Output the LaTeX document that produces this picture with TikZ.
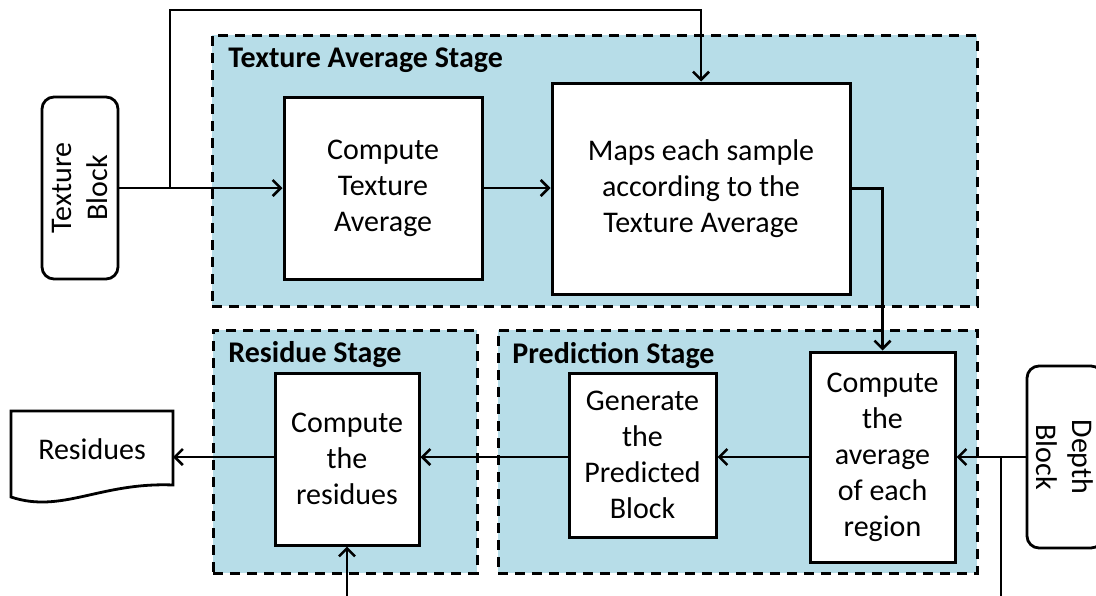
\documentclass[tikz,border=0pt]{standalone}
\usepackage{fontspec}
\setmainfont{Carlito}
\usetikzlibrary{arrows.meta,fit}
\definecolor{stagefill}{HTML}{B7DDE8}
\tikzset{
  stagebox/.style={draw, fill=stagefill, line width=1.5pt, dash pattern=on 5pt off 3.5pt, inner sep=0pt},
  stagetitle/.style={anchor=west, font=\fontsize{15}{17}\selectfont\bfseries, inner sep=0pt},
  bodytext/.style={font=\fontsize{15}{18}\selectfont},
  procbox/.style={draw, fill=white, line width=1.5pt, inner sep=0pt, align=center, bodytext},
  termbox/.style={draw, fill=white, line width=1.4pt, rounded corners=6pt, inner sep=0pt,
    minimum width=38pt, minimum height=91pt},
  flow/.style={line width=1.3pt, -{Straight Barb[length=4pt,width=8pt,line width=1.3pt]}},
  wire/.style={line width=1.3pt}
}
\begin{document}
\begin{tikzpicture}[x=0.5pt,y=-0.5pt]
\useasboundingbox (0,0) rectangle (1096,595);

% stage backgrounds
\node[stagebox, fit={(212,35) (977,306)}] (tas) {};
\node[stagebox, fit={(213,330) (477,573)}] (rs) {};
\node[stagebox, fit={(498,330) (977,573)}] (ps) {};
\node[stagetitle] (tastitle) at (228,60) {Texture Average Stage};
\node[stagetitle] (rstitle) at (228,355) {Residue Stage};
\node[stagetitle] (pstitle) at (512,355) {Prediction Stage};

% terminals
\node[termbox] (tb) at (80,188) {};
\node[rotate=90, align=center, bodytext] (tbtext) at (tb.center) {Texture\\Block};
\node[termbox] (db) at (1065,457) {};
\node[rotate=-90, align=center, bodytext] (dbtext) at (db.center) {Depth\\Block};

% processing blocks
\node[procbox, minimum width=99pt, minimum height=91pt] (cta) at (383,188)
  {Compute\\Texture\\Average};
\node[procbox, minimum width=149pt, minimum height=105.5pt] (maps) at (701,188.5)
  {Maps each sample\\according to the\\Texture Average};
\node[procbox, minimum width=72.5pt, minimum height=105pt] (ca) at (882.5,457)
  {Compute\\the\\average\\of each\\region};
\node[procbox, minimum width=73.5pt, minimum height=82pt] (gp) at (642.5,455)
  {Generate\\the\\Predicted\\Block};
\node[procbox, minimum width=72pt, minimum height=86pt] (cr) at (347,459)
  {Compute\\the\\residues};

% output document
\draw[line width=1.4pt, fill=white] (11,411) -- (173,411) -- (173,485)
  .. controls (100,482) and (62,514) .. (11,497) -- cycle;
\node[bodytext] (res) at (92,449) {Residues};
\coordinate (resin) at (173,457);

% connectors
\coordinate (split1) at (170,188);
\coordinate (split2) at (1001,457);
\draw[flow] (tb.east |- cta.west) -- (cta.west);
\draw[flow] (split1) -- (170,10) -| (maps.north);
\draw[flow] (cta.east) -- (maps.west |- cta.east);
\draw[flow] (maps.east) -| (ca.north);
\draw[flow] (db.west |- ca.east) -- (ca.east);
\draw[flow] (split2) -- (1001,597) -| (cr.south);
\draw[flow] (ca.west) -- (gp.east |- ca.west);
\draw[flow] (gp.west |- ca.west) -- (cr.east |- ca.west);
\draw[flow] (cr.west |- resin) -- (resin);
\end{tikzpicture}
\end{document}
